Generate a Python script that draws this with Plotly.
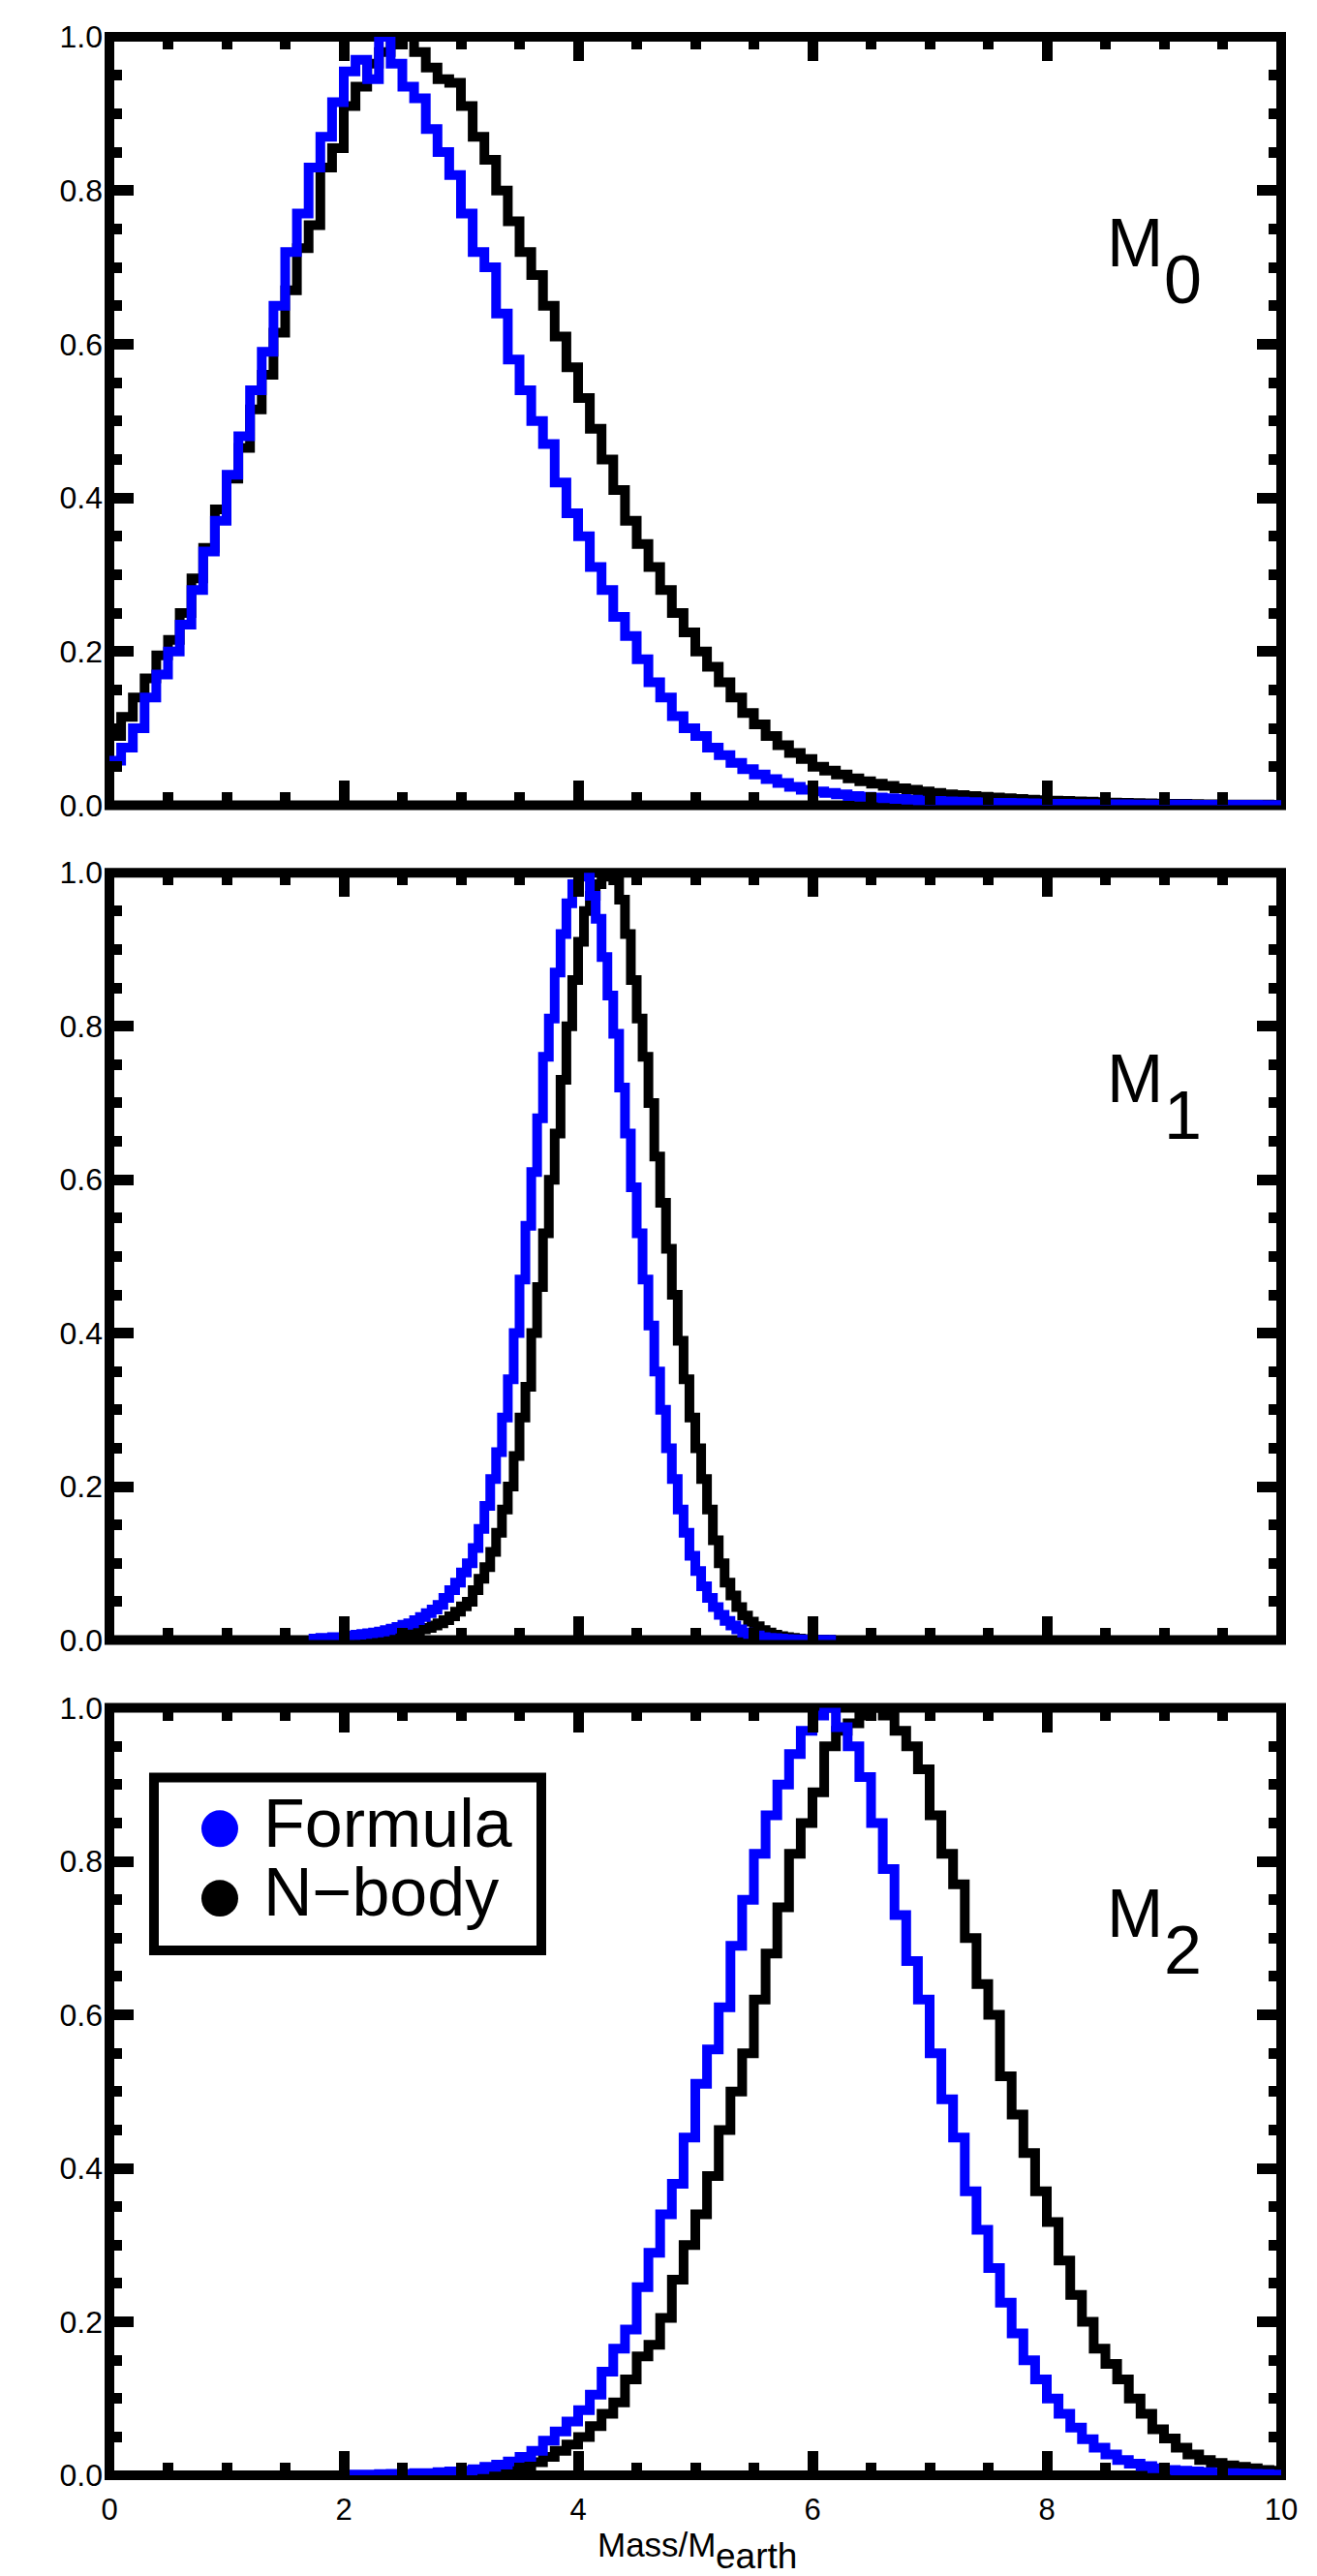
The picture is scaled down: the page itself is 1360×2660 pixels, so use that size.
import plotly.graph_objects as go

# --- histogram values (peak-normalised) ---
# M0 panel: 0.1 wide bins from 0.0
m0_start = 0.0
m0_width = 0.1
m0_formula = [
    .058, .075, .100, .140, .170, .200, .235, .280, .330, .370,
    .430, .480, .540, .590, .650, .720, .770, .830, .870, .915,
    .955, .970, .945, 1.000, .965, .935, .920, .880, .850, .820,
    .770, .720, .700, .640, .580, .540, .500, .470, .420, .380,
    .350, .310, .280, .245, .220, .190, .160, .140, .116, .100,
    .090, .075, .065, .055, .047, .040, .034, .029, .024, .020,
    .018, .016, .014, .012, .011, .010, .009, .008, .007, .006,
    .0055, .005, .0045, .004, .0036, .0032, .0029, .0026, .0023, .0021,
    .0019, .0017, .0015, .0014, .0013, .0012, .0011, .0010, .0009, .0008,
    .0007, .0007, .0006, .0006, .0005, .0005, .0004, .0004, .0003, .0003,
]
m0_nbody = [
    .090, .115, .140, .165, .195, .215, .250, .295, .335, .385,
    .425, .465, .515, .560, .615, .670, .725, .755, .830, .855,
    .910, .935, .965, .980, .990, 1.000, .980, .960, .945, .940,
    .910, .870, .840, .800, .760, .720, .690, .650, .610, .570,
    .530, .490, .450, .410, .370, .340, .310, .280, .250, .225,
    .200, .180, .160, .140, .120, .105, .090, .078, .068, .060,
    .050, .045, .040, .035, .031, .028, .025, .022, .020, .018,
    .016, .014, .013, .012, .011, .010, .009, .008, .007, .0065,
    .006, .0055, .005, .0045, .004, .0035, .003, .0027, .0024, .0021,
    .0019, .0017, .0015, .0013, .0012, .0010, .0009, .0008, .0007, .0006,
]

# M1 panel: 0.05 wide bins
m1_width = 0.05
m1_formula_start = 1.70
m1_formula = [
    .002, .002, .003, .003, .004, .004,
    .005, .006, .007, .008, .009, .010, .011, .013, .015, .017,
    .020, .022, .026, .030, .035, .040, .046, .055, .065, .075,
    .088, .100, .120, .145, .175, .210, .245, .290, .340, .400,
    .470, .540, .610, .680, .760, .810, .870, .920, .960, .985,
    1.000, .995, .970, .940, .890, .840, .790, .720, .660, .590,
    .530, .470, .410, .350, .300, .250, .210, .170, .140, .110,
    .090, .070, .055, .043, .033, .025, .019, .014, .010, .008,
    .006, .004, .003, .0025, .002, .0015, .0012, .001, .0008, .0006,
    .0005, .0004, .0003, .0002,
]
m1_nbody_start = 2.00
m1_nbody = [
    .002, .002, .003, .003, .004, .004, .005, .006, .007, .008,
    .009, .010, .012, .014, .016, .019, .022, .026, .031, .037,
    .044, .050, .065, .080, .095, .115, .140, .170, .200, .240,
    .290, .330, .400, .460, .530, .600, .660, .730, .800, .860,
    .910, .950, .970, .985, .995, 1.000, .990, .965, .920, .860,
    .810, .760, .700, .630, .570, .510, .450, .390, .340, .290,
    .250, .210, .170, .130, .100, .075, .058, .043, .032, .024,
    .018, .013, .010, .007, .005, .004, .003, .002, .0015, .001,
    .0008, .0006, .0004, .0003,
]

# M2 panel: 0.1 wide bins from 2.0
m2_start = 2.0
m2_width = 0.1
m2_formula = [
    .001, .001, .001, .0015, .002, .002, .003, .003, .004, .005,
    .006, .008, .011, .014, .018, .024, .032, .045, .057, .070,
    .085, .105, .135, .165, .190, .245, .290, .340, .380, .440,
    .510, .555, .610, .690, .750, .810, .860, .900, .940, .970,
    .990, 1.000, .975, .950, .910, .850, .790, .730, .670, .620,
    .550, .490, .440, .370, .320, .270, .225, .185, .150, .125,
    .100, .080, .062, .047, .036, .027, .020, .015, .012, .009,
    .007, .006, .005, .004, .0035, .003, .0025, .002, .0015, .001,
]
m2_nbody = [
    0, 0, 0, 0, 0, .0005, .001, .001, .0015, .002,
    .003, .004, .005, .007, .009, .012, .017, .024, .032, .040,
    .050, .064, .080, .095, .125, .155, .170, .205, .255, .300,
    .340, .390, .450, .500, .550, .620, .680, .740, .810, .850,
    .890, .950, .970, .980, .990, 1.000, .990, .970, .950, .920,
    .860, .810, .770, .700, .640, .600, .520, .470, .420, .370,
    .330, .280, .235, .200, .165, .145, .125, .100, .080, .060,
    .048, .036, .027, .020, .016, .013, .011, .009, .007, .006,
]

panel_labels = ["0", "1", "2"]
legend_names = ["Formula", "N\u2212body"]
x_ticks = [0, 2, 4, 6, 8, 10]
y_ticks = [0.0, 0.2, 0.4, 0.6, 0.8, 1.0]

BLUE = "rgb(0,0,255)"
FONT = "Liberation Sans"


def steps(start, width, vals):
    # bin edges + repeated last value so 'hv' closes the final bin
    xs = [start + width * i for i in range(len(vals) + 1)]
    ys = list(vals) + [vals[-1]]
    return xs, ys


panels = [
    [(m0_start, m0_width, m0_nbody, "black"), (m0_start, m0_width, m0_formula, BLUE)],
    [(m1_nbody_start, m1_width, m1_nbody, "black"), (m1_formula_start, m1_width, m1_formula, BLUE)],
    [(m2_start, m2_width, m2_nbody, "black"), (m2_start, m2_width, m2_formula, BLUE)],
]

fig = go.Figure()
for p, series in enumerate(panels):
    ax = "" if p == 0 else str(p + 1)
    for start, width, vals, col in series:
        xs, ys = steps(start, width, vals)
        fig.add_trace(go.Scatter(x=xs, y=ys, mode="lines", line_shape="hv",
                                 line=dict(color=col, width=10),
                                 xaxis="x" + ax, yaxis="y" + ax, showlegend=False,
                                 cliponaxis=False, hoverinfo="skip"))

domains = [[0.6849, 1.0], [0.3425, 0.6572], [0.0, 0.3147]]
layout = {}
shapes = []
for p in range(3):
    ax = "" if p == 0 else str(p + 1)
    layout["xaxis" + ax] = dict(
        domain=[0, 1], anchor="y" + ax, range=[0, 10],
        showline=False, mirror="ticks",
        ticks="inside", ticklen=25, tickwidth=11, tickcolor="black",
        tickvals=x_ticks, ticktext=[str(v) for v in x_ticks],
        minor=dict(ticks="inside", ticklen=13, tickwidth=11, dtick=0.5, tickcolor="black"),
        showticklabels=(p == 2), ticklabelstandoff=14,
        tickfont=dict(family=FONT, size=31, color="black"),
        showgrid=False, zeroline=False,
    )
    layout["yaxis" + ax] = dict(
        domain=domains[p], anchor="x" + ax, range=[0, 1],
        showline=False, mirror="ticks",
        ticks="inside", ticklen=25, tickwidth=11, tickcolor="black",
        tickvals=y_ticks, ticktext=["%.1f" % v for v in y_ticks],
        minor=dict(ticks="inside", ticklen=13, tickwidth=11, dtick=0.05, tickcolor="black"),
        ticklabelstandoff=6,
        tickfont=dict(family=FONT, size=32, color="black"),
        showgrid=False, zeroline=False,
    )
    # heavy frame centred on the plot edges, drawn under the curves
    shapes.append(dict(type="rect", xref="x%s domain" % ax, yref="y%s domain" % ax,
                       x0=0, x1=1, y0=0, y1=1, layer="below",
                       line=dict(color="black", width=10)))

annotations = []
for p, lab in enumerate(panel_labels):
    ax = "" if p == 0 else str(p + 1)
    annotations.append(dict(text="M", x=0.8752, y=0.732, xref="x%s domain" % ax, yref="y%s domain" % ax,
                            showarrow=False, xanchor="center", yanchor="middle",
                            font=dict(family=FONT, size=70, color="black")))
    annotations.append(dict(text=lab, x=0.9165, y=0.684, xref="x%s domain" % ax, yref="y%s domain" % ax,
                            showarrow=False, xanchor="center", yanchor="middle",
                            font=dict(family=FONT, size=70, color="black")))

# hand-drawn legend in the bottom panel
shapes.append(dict(type="rect", xref="x3 domain", yref="y3 domain", x0=0.0380, x1=0.3686, y0=0.6839, y1=0.9093,
                   line=dict(color="black", width=10), fillcolor="white", layer="above"))
legend_dots = [(0.8186, 0.8665, BLUE), (0.7280, 0.7758, "black")]
legend_text_y = [0.8492, 0.7598]
for (y0, y1, col), yt, name in zip(legend_dots, legend_text_y, legend_names):
    shapes.append(dict(type="circle", xref="x3 domain", yref="y3 domain",
                       x0=0.0785, x1=0.1099, y0=y0, y1=y1, layer="above",
                       line=dict(color=col, width=0), fillcolor=col))
    annotations.append(dict(text=name, x=0.1295, y=yt, xref="x3 domain", yref="y3 domain",
                            showarrow=False, xanchor="left", yanchor="middle",
                            font=dict(family=FONT, size=70, color="black")))

# x title with full-size subscript
annotations.append(dict(text="Mass/M", x=0.4674, y=-0.0284, xref="paper", yref="paper",
                        showarrow=False, xanchor="center", yanchor="middle",
                        font=dict(family=FONT, size=35, color="black")))
annotations.append(dict(text="earth", x=0.5521, y=-0.0332, xref="paper", yref="paper",
                        showarrow=False, xanchor="center", yanchor="middle",
                        font=dict(family=FONT, size=37, color="black")))

fig.update_layout(**layout)
fig.update_layout(
    width=1360, height=2660,
    margin=dict(l=105, r=45, t=25, b=112),
    paper_bgcolor="white", plot_bgcolor="white",
    annotations=annotations, shapes=shapes, showlegend=False,
)

fig.write_html("out.html")
